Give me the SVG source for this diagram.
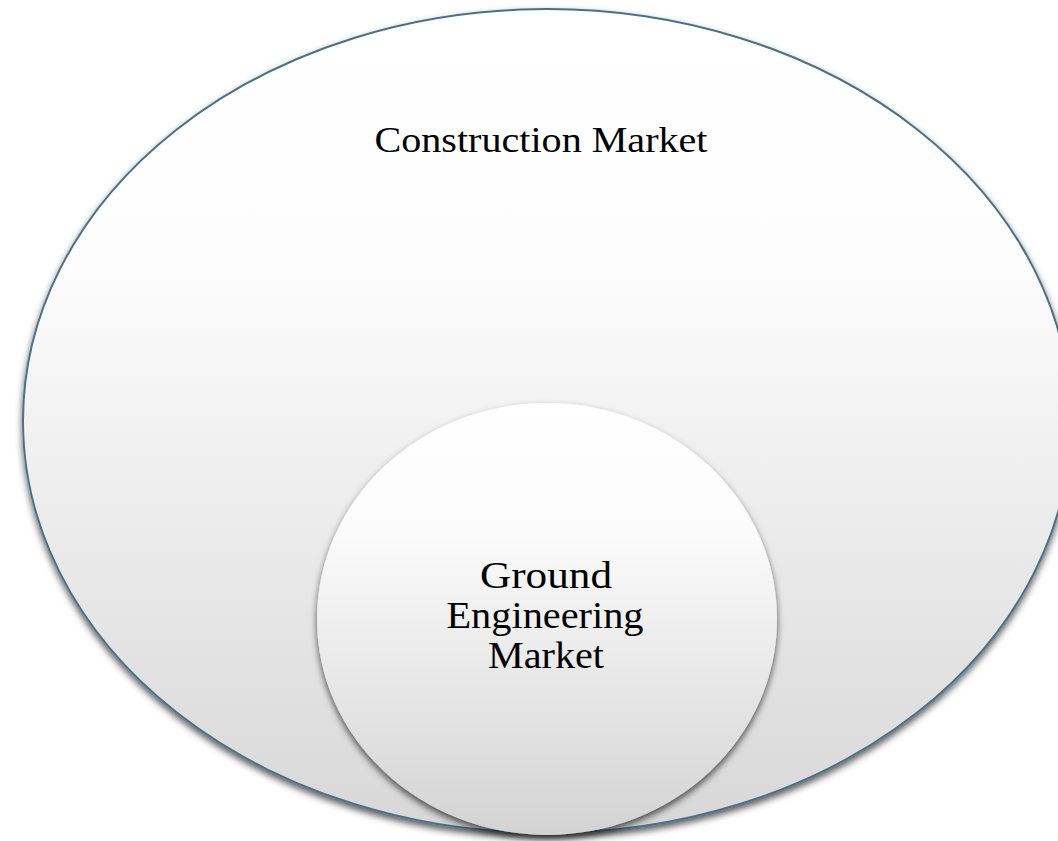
<svg xmlns="http://www.w3.org/2000/svg" width="1058" height="841" viewBox="0 0 1058 841">
  <defs>
    <linearGradient id="gOuter" x1="0" y1="0" x2="0" y2="1">
      <stop offset="0" stop-color="#ffffff"/>
      <stop offset="0.3" stop-color="#fdfdfd"/>
      <stop offset="1" stop-color="#d7d7d7"/>
    </linearGradient>
    <linearGradient id="gInner" x1="0" y1="0" x2="0" y2="1">
      <stop offset="0" stop-color="#ffffff"/>
      <stop offset="0.3" stop-color="#fbfbfb"/>
      <stop offset="1" stop-color="#d3d3d3"/>
    </linearGradient>
    <filter id="shadow" x="-10%" y="-10%" width="120%" height="125%">
      <feDropShadow dx="0" dy="4" stdDeviation="3.5" flood-color="#000000" flood-opacity="0.65"/>
    </filter>
  </defs>
  <style>
    .lbl { font-family: "Liberation Serif", "DejaVu Serif", serif; fill: #000000; text-anchor: middle; }
    .outer { font-size: 36px; }
    .inner { font-size: 37px; }
  </style>
  <rect width="1058" height="841" fill="#ffffff"/>
  <g id="construction-market">
    <ellipse cx="547" cy="421" rx="524" ry="412" fill="url(#gOuter)" stroke="#4b7086" stroke-width="2" filter="url(#shadow)"/>
    <text class="lbl outer" x="541" y="152" textLength="333" lengthAdjust="spacingAndGlyphs">Construction Market</text>
  </g>
  <g id="ground-engineering-market">
    <ellipse cx="547" cy="619" rx="230" ry="216" fill="url(#gInner)" filter="url(#shadow)"/>
    <text class="lbl inner" x="546" y="588" textLength="132" lengthAdjust="spacingAndGlyphs">Ground</text>
    <text class="lbl inner" x="545" y="628" textLength="197" lengthAdjust="spacingAndGlyphs">Engineering</text>
    <text class="lbl inner" x="546" y="668" textLength="116" lengthAdjust="spacingAndGlyphs">Market</text>
  </g>
  <g id="connectors"></g>
</svg>
